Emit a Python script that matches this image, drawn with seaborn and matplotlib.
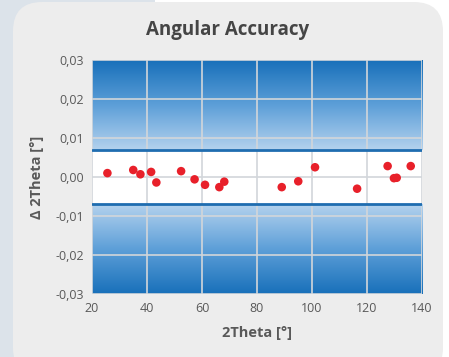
import numpy as np
import matplotlib
matplotlib.use('Agg')
import matplotlib.pyplot as plt
import seaborn as sns
from matplotlib.patches import FancyBboxPatch, Rectangle
from matplotlib.colors import LinearSegmentedColormap
from matplotlib.ticker import FuncFormatter

# Data
two_theta = [25.6, 35.0, 37.6, 41.5, 43.4, 52.4, 57.3, 61.1, 66.3, 68.1,
             89.0, 95.0, 101.1, 116.4, 127.5, 129.8, 130.8, 135.9]
delta = [0.0010, 0.0018, 0.0007, 0.0013, -0.0014, 0.0015, -0.0006, -0.0020, -0.0026, -0.0012,
         -0.0026, -0.0011, 0.0025, -0.0030, 0.0028, -0.0003, -0.0002, 0.0028]
tolerance = 0.007
x_ticks = [20, 40, 60, 80, 100, 120, 140]
y_ticks = [-0.03, -0.02, -0.01, 0.0, 0.01, 0.02, 0.03]

sns.set_style('white')
plt.rcParams['font.family'] = ['Open Sans', 'DejaVu Sans']

fig = plt.figure(figsize=(4.49, 3.57), dpi=100)
fig.patch.set_facecolor('white')

# background: blue-grey page strip on the left, rounded grey card on top
fig.patches.append(Rectangle((0, 0), 155 / 449, 1, transform=fig.transFigure,
                             facecolor='#dce3ea', edgecolor='none', zorder=0))
card = FancyBboxPatch((13 / 449, -20 / 357), 430 / 449, 375 / 357,
                      boxstyle='round,pad=0,rounding_size=0.065',
                      transform=fig.transFigure, facecolor='#ededed',
                      edgecolor='none', zorder=1, mutation_aspect=449 / 357)
fig.patches.append(card)
# round bottom corners sit just at the bottom edge
card2 = FancyBboxPatch((13 / 449, 0), 430 / 449, 0.5,
                       boxstyle='round,pad=0,rounding_size=0.065',
                       transform=fig.transFigure, facecolor='#ededed',
                       edgecolor='none', zorder=1, mutation_aspect=449 / 357)
fig.patches.append(card2)

ax = fig.add_axes([92 / 449, 1 - 294 / 357, 330 / 449, 234 / 357])
ax.set_zorder(2)
ax.set_facecolor('white')

cmap = LinearSegmentedColormap.from_list('blu', ['#b4d2ee', '#5d9fd8', '#1870ba'])
grad = np.linspace(0, 1, 256).reshape(-1, 1)
ax.imshow(grad, cmap=cmap, aspect='auto', origin='lower',
          extent=[20, 140, tolerance, 0.03], zorder=0)
ax.imshow(grad[::-1], cmap=cmap, aspect='auto', origin='lower',
          extent=[20, 140, -0.03, -tolerance], zorder=0)

for xv in x_ticks:
    ax.axvline(xv, color='#d2d6da', lw=1.2, zorder=1)
for yv in y_ticks:
    ax.axhline(yv, color='#d2d6da', lw=1.2, zorder=1)
ax.axhline(tolerance, color='#1f6db0', lw=2, zorder=2)
ax.axhline(-tolerance, color='#1f6db0', lw=2, zorder=2)

sns.scatterplot(x=two_theta, y=delta, ax=ax, color='#e8202a', s=38,
                edgecolor='none', zorder=3)

ax.set_xlim(20, 140)
ax.set_ylim(-0.03, 0.03)
ax.set_xticks(x_ticks)
ax.set_yticks(y_ticks)
ax.yaxis.set_major_formatter(FuncFormatter(lambda v, p: f'{v:.2f}'.replace('.', ',').replace('-0,00', '0,00')))
ax.tick_params(colors='#595959', labelsize=9, length=0, pad=6)
for s in ax.spines.values():
    s.set_visible(False)

ax.set_xlabel('2Theta [°]', fontsize=10.5, fontweight='bold', color='#595959', labelpad=8)
ax.set_ylabel('Δ 2Theta [°]', fontsize=10.5, fontweight='bold', color='#595959', labelpad=8)
fig.text(228 / 449, 1 - 30 / 357, 'Angular Accuracy', ha='center', va='center',
         fontsize=13.5, fontweight='bold', color='#454545')

fig.savefig('out.png', dpi=100, facecolor=fig.get_facecolor())
